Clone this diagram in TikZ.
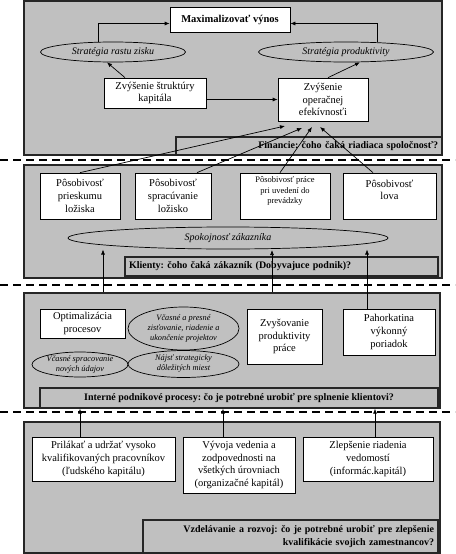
\documentclass[tikz,border=0pt]{standalone}
\usepackage{fontspec}
\setmainfont{Liberation Serif}
\frenchspacing
\usetikzlibrary{shapes.geometric,arrows.meta}
\definecolor{panelgray}{HTML}{C0C0C0}
\tikzset{
  panel/.style={draw=black!85,line width=1.3pt,fill=panelgray,inner sep=0pt},
  box/.style={draw=black,line width=0.7pt,fill=white,inner sep=1pt,align=center,font=\fontsize{10.5}{12.7}\selectfont},
  smallbox/.style={box,font=\fontsize{8.5}{10.5}\selectfont},
  oval/.style={ellipse,draw=black,line width=0.7pt,fill=panelgray,inner sep=0pt,align=center,font=\fontsize{10}{12}\selectfont\itshape},
  smalloval/.style={oval,font=\fontsize{8.3}{10}\selectfont\itshape},
  label/.style={draw=black!85,line width=1.1pt,fill=panelgray,inner sep=4pt,font=\fontsize{10}{12.5}\selectfont\bfseries},
  arr/.style={-{Latex[length=5pt,width=4pt]},line width=0.7pt},
  sep/.style={dash pattern=on 8pt off 5pt,line width=1.2pt}
}
\begin{document}
\begin{tikzpicture}[x=1pt,y=-1pt]
\useasboundingbox (0,0) rectangle (455,554);
% panels
\node[panel,minimum width=418pt,minimum height=154pt] (p1) at (233,78) {};
\node[panel,minimum width=418pt,minimum height=113pt] (p2) at (233,221.5) {};
\node[panel,minimum width=416pt,minimum height=115pt] (p3) at (232,350.5) {};
\node[panel,minimum width=416pt,minimum height=131pt] (p4) at (232,487.5) {};
% separators
\coordinate (d1a) at (0,160); \coordinate (d1b) at (455,160);
\coordinate (d2a) at (0,285); \coordinate (d2b) at (455,285);
\coordinate (d3a) at (0,412); \coordinate (d3b) at (455,412);
\draw[sep] (d1a) -- (d1b);
\draw[sep] (d2a) -- (d2b);
\draw[sep] (d3a) -- (d3b);
% panel 1
\node[box,font=\fontsize{10.5}{12.7}\selectfont\bfseries,minimum width=120pt,minimum height=25pt] (mv) at (230,19.5) {Maximalizovať výnos};
\node[oval,minimum width=145pt,minimum height=20pt] (el1) at (113,52) {Stratégia rastu zisku};
\node[oval,minimum width=175pt,minimum height=20pt] (el2) at (346,52) {Stratégia produktivity};
\node[box,minimum width=102pt,minimum height=30pt] (kap) at (155,93) {Zvýšenie štruktúry\\kapitála};
\node[box,minimum width=90pt,minimum height=43pt] (ef) at (323,99.5) {Zvýšenie\\operačnej\\efekívnosťi};
\node[label,minimum width=266pt,minimum height=18pt,text width=258pt,align=right] (l1) at (309,146) {Financie: čoho čaká riadiaca spoločnosť?};
\draw[arr] ([xshift=-15pt]el1.north) |- ([yshift=-4pt]mv.west);
\draw[arr] ([xshift=31pt]el2.north) |- ([yshift=-4pt]mv.east);
\draw[arr] ([xshift=-30pt]kap.north) -- ([xshift=-6pt]el1.south);
\draw[arr] ([xshift=5pt]ef.north) -- ([xshift=14pt]el2.south);
\draw[arr] (kap.east |- ef.west) -- (ef.west);
% panel 2
\node[box,minimum width=80pt,minimum height=46pt] (b21) at (80,196) {Pôsobivosť\\prieskumu\\ložiska};
\node[box,minimum width=76pt,minimum height=46pt] (b22) at (173,196) {Pôsobivosť\\spracúvanie\\ložisko};
\node[smallbox,minimum width=90pt,minimum height=46pt] (b23) at (285,196) {Pôsobivosť práce\\pri uvedení do\\prevádzky\\[1pt]\mbox{}};
\node[box,minimum width=93pt,minimum height=46pt] (b24) at (389.5,196) {Pôsobivosť\\lova\\\mbox{}};
\node[oval,minimum width=320pt,minimum height=22pt] (sat) at (228,238) {Spokojnosť zákazníka};
\node[label,minimum width=313pt,minimum height=19pt,text width=305pt,align=left] (l2) at (281.5,266.5) {Klienty: čoho čaká zákazník (Dobyvajuce podnik)?};
\coordinate (t1) at (285,126);
\coordinate (t2) at (302,128);
\coordinate (t3) at (312,127);
\coordinate (t4) at (320,127);
\draw[arr] (b21.north) -- (t1);
\draw[arr] ([xshift=24pt]b22.north) -- (t2);
\draw[arr] ([xshift=-5pt]b23.north) -- (t3);
\draw[arr] ([xshift=-16.5pt]b24.north) -- (t4);
% panel 3
\node[box,minimum width=85pt,minimum height=29pt] (b31) at (82.5,323.5) {Optimalizácia\\procesov};
\node[smalloval,minimum width=111pt,minimum height=43pt] (e31) at (183.5,328.5) {Včasné a presné\\zisťovanie, riadenie a\\ukončenie projektov};
\node[smalloval,minimum width=96pt,minimum height=25pt] (e32) at (80,364.5) {Včasné spracovanie\\nových údajov};
\node[smalloval,minimum width=111pt,minimum height=27pt] (e33) at (183.5,364) {Nájsť strategicky\\dôležitých miest};
\node[box,minimum width=75pt,minimum height=55pt] (b32) at (284.5,336.5) {Zvyšovanie\\produktivity\\práce};
\node[box,minimum width=92pt,minimum height=46pt] (b33) at (389,332) {Pahorkatina\\výkonný\\poriadok};
\node[label,minimum width=398pt,minimum height=20pt] (l3) at (239,398) {Interné podnikové procesy: čo je potrebné urobiť pre splnenie klientovi?};
\coordinate (s1) at (103,249.5);
\coordinate (s2) at (272,250);
\coordinate (s3) at (367,249.5);
\draw[arr] (s1 |- p3.north) -- (s1);
\draw[arr] (s2 |- p3.north) -- (s2);
\draw[arr] ([xshift=-22pt]b33.north) -- (s3);
% panel 4
\node[box,minimum width=143pt,minimum height=44pt] (b41) at (103.5,459) {Prilákať a udržať vysoko\\kvalifikovaných pracovníkov\\(ľudského kapitálu)};
\node[box,minimum width=112pt,minimum height=56pt] (b42) at (239,465) {Vývoja vedenia a\\zodpovednosti na\\všetkých úrovniach\\(organizačné kapitál)};
\node[box,minimum width=130pt,minimum height=44pt] (b43) at (368,459) {Zlepšenie riadenia\\vedomostí\\(informác.kapitál)};
\node[label,minimum width=295pt,minimum height=33pt,text width=287pt,align=right] (l4) at (290.5,536.5) {Vzdelávanie a rozvoj: čo je potrebné urobiť pre zlepšenie\\kvalifikácie svojich zamestnancov?};
\draw[arr] ([xshift=-23.5pt]b41.north) -- ([xshift=-23.5pt]b41.north |- p3.south);
\draw[arr] ([xshift=-16pt]b42.north) -- ([xshift=-16pt]b42.north |- p3.south);
\draw[arr] ([xshift=7pt]b43.north) -- ([xshift=7pt]b43.north |- p3.south);
\end{tikzpicture}
\end{document}
